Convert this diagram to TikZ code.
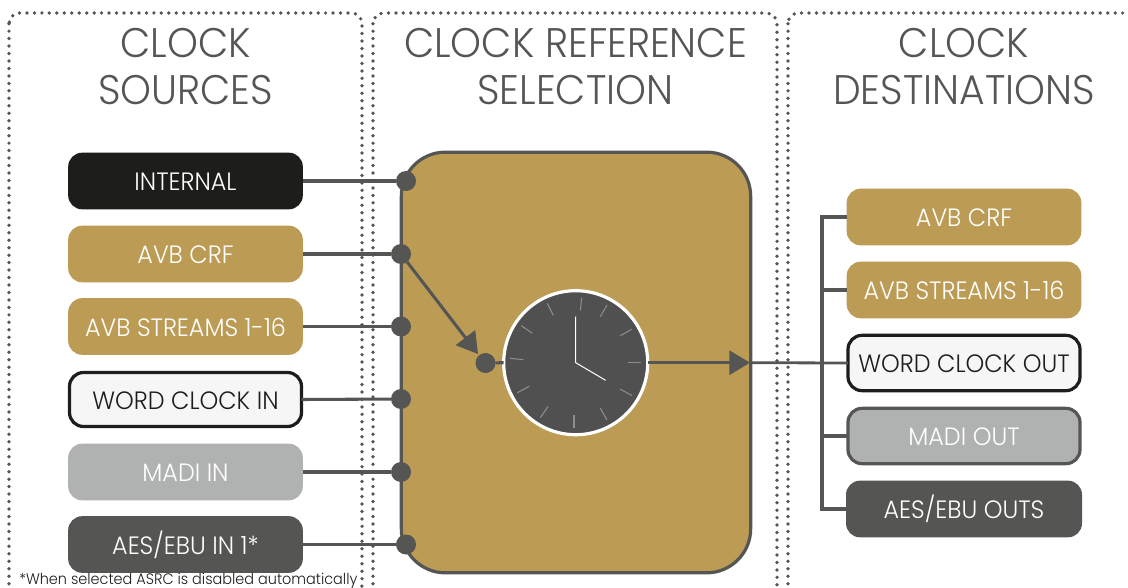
\documentclass[tikz,border=0pt]{standalone}
\usepackage{fontspec}
\setmainfont{Poppins Light}[FakeStretch=0.95]
\usetikzlibrary{arrows.meta}
\definecolor{ink}{HTML}{555554}
\definecolor{gold}{HTML}{BC9C55}
\definecolor{nearblack}{HTML}{1D1D1B}
\definecolor{lgray}{HTML}{B0B2B1}
\definecolor{paper}{HTML}{F6F6F6}
\definecolor{face}{HTML}{505050}
\tikzset{
  x=0.75pt,y=-0.75pt,
  panel/.style={draw=ink,line width=2.8pt,line cap=round,dash pattern=on 0pt off 5.6pt,rounded corners=8pt},
  titletext/.style={text=ink,align=center,font=\fontsize{31}{35.2}\selectfont,inner sep=0pt},
  srcbox/.style={rounded corners=10.5pt,minimum width=176pt,minimum height=42.5pt,inner sep=0pt,outer sep=0pt,
     text height=14.7pt,text depth=0pt,font=\fontsize{18.8}{20}\selectfont},
  goldbox/.style={srcbox,fill=gold,text=white},
  blackbox/.style={srcbox,fill=nearblack,text=white},
  whitebox/.style={srcbox,fill=paper,draw=nearblack,line width=2.4pt,text=nearblack},
  graybox/.style={srcbox,fill=lgray,text=white},
  graylinebox/.style={srcbox,fill=lgray,draw=ink,line width=2.4pt,text=white},
  darkbox/.style={srcbox,fill=ink,text=white},
  port/.style={circle,fill=ink,minimum size=15pt,inner sep=0pt,outer sep=0pt},
  wire/.style={draw=ink,line width=2.3pt},
  arrowwire/.style={wire,-{Triangle[length=15.5pt,width=18pt]}},
  tick/.style={draw=white!35!face,line width=0.8pt},
  hand/.style={draw=white,line width=0.75pt},
}
\begin{document}
\begin{tikzpicture}
\useasboundingbox (0,0) rectangle (1128,588);
\clip (0,0) rectangle (1128,588);
% panels
\draw[panel] (9,13) rectangle (362,596);
\draw[panel] (373,13) rectangle (777,596);
\draw[panel] (788,13) rectangle (1150,596);
% titles
\node[titletext] (t1) at (185.5,67) {CLOCK\\SOURCES};
\node[titletext] (t2) at (575.5,67) {CLOCK REFERENCE\\SELECTION};
\node[titletext] (t3) at (964,67) {CLOCK\\DESTINATIONS};
% selector body
\node[draw=ink,line width=2.4pt,fill=gold,rounded corners=33pt,minimum width=262pt,minimum height=315.5pt,inner sep=0pt,outer sep=0pt] (body) at (576,362.5) {};
% sources
\node[blackbox] (s1) at (185.5,181) {INTERNAL};
\node[goldbox] (s2) at (185.5,254) {AVB CRF};
\node[goldbox] (s3) at (185.5,326.5) {AVB STREAMS 1-16};
\node[whitebox,minimum width=174pt,minimum height=40.5pt] (s4) at (185.5,399.5) {WORD CLOCK IN};
\node[graybox] (s5) at (185.5,472) {MADI IN};
\node[darkbox] (s6) at (185.5,544.5) {AES/EBU IN 1*};
% destinations
\node[goldbox] (d1) at (964,217) {AVB CRF};
\node[goldbox] (d2) at (964,290) {AVB STREAMS 1-16};
\node[whitebox,minimum width=174pt,minimum height=41.5pt] (d3) at (964,363) {WORD CLOCK OUT};
\node[graylinebox,minimum width=174pt,minimum height=41.5pt] (d4) at (964,436) {MADI OUT};
\node[darkbox,minimum width=177pt] (d5) at (964,509) {AES/EBU OUTS};
% ports
\node[port] (p1) at (406,181) {};
\node[port] (p2) at (401,254) {};
\node[port] (p3) at (401,326.5) {};
\node[port] (p4) at (401,399) {};
\node[port] (p5) at (401,472) {};
\node[port] (p6) at (406,544.5) {};
\node[port] (pc) at (485.5,363) {};
% clock
\node[circle,draw=white,fill=face,line width=2.4pt,minimum size=108pt,inner sep=0pt,outer sep=0pt] (clock) at (575.7,362.7) {};
% source wires
\foreach \i in {1,...,6} \draw[wire] (s\i.east) -- (p\i);
% selection
\coordinate (tipin) at (478,354);
\draw[arrowwire] (p2) -- (tipin);
\draw[wire] (pc) -- (clock.west);
% output
\coordinate (tipout) at (750,362.7);
\draw[arrowwire] (clock.east) -- (tipout);
\draw[wire,line width=2.1pt] (tipout) -- (d3.west);
\coordinate (bustop) at (822,217);
\coordinate (busbot) at (822,509);
\draw[wire,line join=miter] (d1.west) -- (bustop) -- (busbot) -- (d5.west);
\draw[wire] (bustop |- d2.west) -- (d2.west);
\draw[wire] (bustop |- d4.west) -- (d4.west);
% clock face
\begin{scope}[shift={(450,270)},x=0.25pt,y=-0.25pt]
\foreach \a/\b/\c/\d in {395/83/391/122,471/105/451/140,545/178/511/197,573/277/533/277,546/377/510/357,471/450/451/415,372/474/372/434,271/443/294/410,202/368/238/349,180/265/220/269,214/167/247/190,292/100/310/136}
  \draw[tick] (\a,\b) -- (\c,\d);
\draw[hand] (377,140) -- (377,278) -- (467,331);
\end{scope}
% footnote
\node[anchor=base west,inner sep=0pt,text=nearblack,font=\fontsize{11.4}{13}\selectfont] (fn) at (19,584.5) {*When selected ASRC is disabled automatically};
\end{tikzpicture}
\end{document}
